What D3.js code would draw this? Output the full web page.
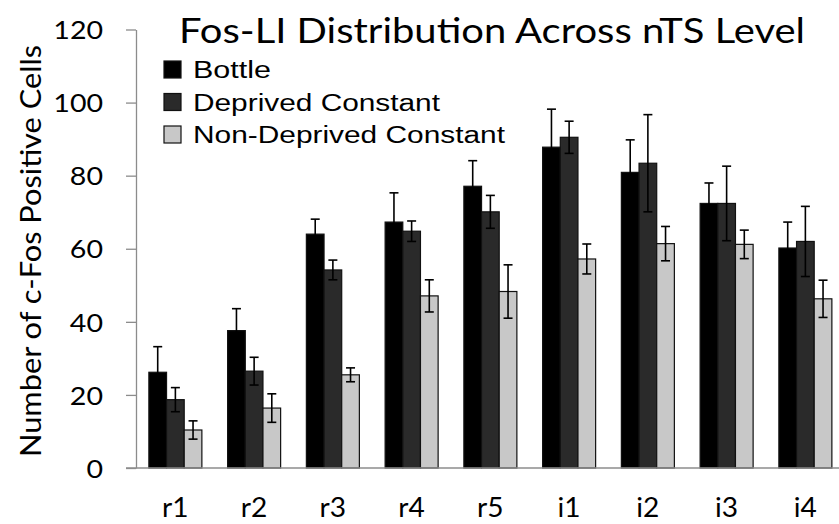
<!DOCTYPE html>
<html>
<head>
<meta charset="utf-8">
<script src="https://cdn.jsdelivr.net/npm/d3@7"></script>
<style>
  html, body { margin: 0; padding: 0; background: #fff; }
  svg { display: block; }
</style>
</head>
<body>
<svg id="chart" width="839" height="524"></svg>
<script>
const categories = ["r1", "r2", "r3", "r4", "r5", "i1", "i2", "i3", "i4"];
const seriesNames = ["Bottle", "Deprived Constant", "Non-Deprived Constant"];
const bottle = [26.2, 37.6, 64.0, 67.3, 77.1, 87.8, 80.9, 72.4, 60.2];
const bottleErr = [7.0, 6.0, 4.1, 8.0, 7.0, 10.4, 8.9, 5.6, 7.1];
const deprived = [18.7, 26.5, 54.2, 64.8, 70.1, 90.5, 83.4, 72.4, 62.0];
const deprivedErr = [3.3, 3.8, 2.7, 2.8, 4.5, 4.4, 13.3, 10.2, 9.6];
const nonDeprived = [10.4, 16.4, 25.5, 47.1, 48.3, 57.2, 61.4, 61.2, 46.3];
const nonDeprivedErr = [2.5, 3.9, 1.9, 4.4, 7.3, 4.1, 4.7, 3.9, 5.1];
const yTicks = [0, 20, 40, 60, 80, 100, 120];
const colors = ["#000000", "#2a2a2a", "#c8c8c8"];

const values = [bottle, deprived, nonDeprived];
const errors = [bottleErr, deprivedErr, nonDeprivedErr];

const svg = d3.select("#chart");
const labelFont = "Lato, 'Open Sans', sans-serif";

// horizontally stretch a text element by factor (source image is wider than tall)
function stretch(sel, factor) {
  sel.each(function () {
    const len = this.getComputedTextLength();
    d3.select(this).attr("textLength", len * factor).attr("lengthAdjust", "spacingAndGlyphs");
  });
}
function fitWidth(sel, width) {
  sel.attr("textLength", width).attr("lengthAdjust", "spacingAndGlyphs");
}

const y = d3.scaleLinear().domain([0, 120]).range([468, 29.5]);
const step = 78.75;
const x0 = d3.scaleBand().domain(categories)
  .range([136, 136 + step * categories.length])
  .paddingInner(0.327).paddingOuter(0.1635);
const x1 = d3.scaleBand().domain(seriesNames).range([0, x0.bandwidth()]);

// Y axis
const yAxis = d3.axisLeft(y).tickValues(yTicks).tickSize(10).tickPadding(23).tickSizeOuter(0);
const gy = svg.append("g").attr("transform", "translate(136,0)").call(yAxis);
gy.select(".domain").attr("stroke", "#8c8c8c").attr("stroke-width", 1.3);
gy.selectAll(".tick line").attr("stroke", "#8c8c8c").attr("stroke-width", 1.3);
gy.selectAll(".tick text").attr("font-family", labelFont).attr("font-size", 25.5)
  .attr("fill", "#000").attr("dy", "0.36em").call(stretch, 1.12);

// Bars
const rows = [];
seriesNames.forEach((s, si) => {
  categories.forEach((c, ci) => {
    rows.push({ s, si, c, v: values[si][ci], e: errors[si][ci] });
  });
});

svg.append("g").selectAll("rect").data(rows).join("rect")
  .attr("x", d => x0(d.c) + x1(d.s))
  .attr("y", d => y(d.v))
  .attr("width", x1.bandwidth())
  .attr("height", d => y(0) - y(d.v))
  .attr("fill", d => colors[d.si])
  .attr("stroke", "#111")
  .attr("stroke-width", 1.2);

// Error bars
const eg = svg.append("g").attr("stroke", "#000").attr("stroke-width", 1.6);
const cap = 4.5;
rows.forEach(d => {
  const cx = x0(d.c) + x1(d.s) + x1.bandwidth() / 2;
  const top = y(d.v + d.e), bot = y(d.v - d.e);
  eg.append("line").attr("x1", cx).attr("x2", cx).attr("y1", top).attr("y2", bot);
  eg.append("line").attr("x1", cx - cap).attr("x2", cx + cap).attr("y1", top).attr("y2", top);
  eg.append("line").attr("x1", cx - cap).attr("x2", cx + cap).attr("y1", bot).attr("y2", bot);
});

// X baseline
svg.append("line").attr("x1", 126).attr("x2", 839).attr("y1", y(0)).attr("y2", y(0))
  .attr("stroke", "#8c8c8c").attr("stroke-width", 1.3);

// X labels
svg.append("g").selectAll("text").data(categories).join("text")
  .attr("x", d => x0(d) + x0.bandwidth() / 2)
  .attr("y", 517)
  .attr("text-anchor", "middle")
  .attr("font-family", labelFont)
  .attr("font-size", 26)
  .text(d => d)
  .call(stretch, 1.08);

// Y label
svg.append("text")
  .attr("transform", "translate(41,251) rotate(-90)")
  .attr("text-anchor", "middle")
  .attr("font-family", labelFont)
  .attr("font-size", 28)
  .text("Number of c-Fos Positive Cells")
  .call(fitWidth, 412);

// Title
svg.append("text")
  .attr("x", 179).attr("y", 43)
  .attr("font-family", labelFont)
  .attr("font-size", 35)
  .text("Fos-LI Distribution Across nTS Level")
  .call(fitWidth, 626);

// Legend
const legendWidths = [78, 247, 312];
const lg = svg.append("g");
seriesNames.forEach((s, i) => {
  const top = 61 + i * 32.5;
  lg.append("rect").attr("x", 164).attr("y", top).attr("width", 17).attr("height", 17)
    .attr("fill", colors[i]).attr("stroke", "#111").attr("stroke-width", 1.2);
  lg.append("text").attr("x", 193).attr("y", top + 17)
    .attr("font-family", "'Liberation Sans', Arial, sans-serif")
    .attr("font-size", 23).text(s)
    .call(fitWidth, legendWidths[i]);
});
</script>
</body>
</html>
